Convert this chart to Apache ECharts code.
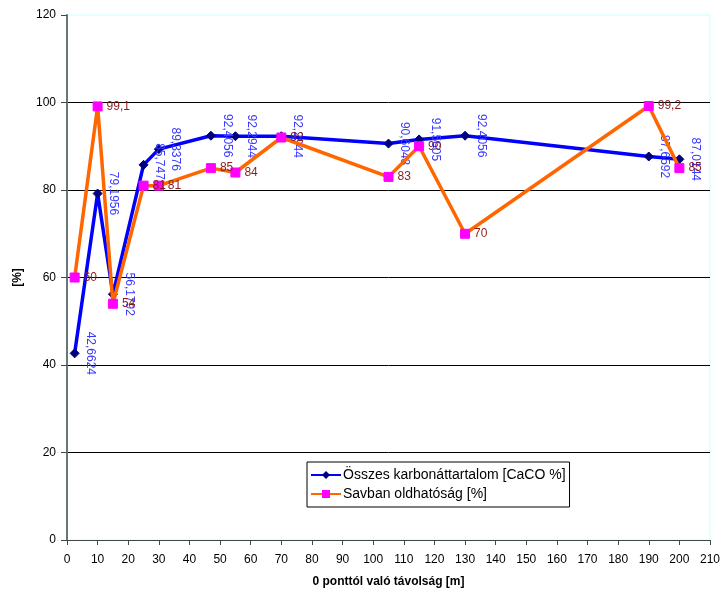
<!DOCTYPE html>
<html>
<head>
<meta charset="utf-8">
<script src="https://cdn.jsdelivr.net/npm/echarts@6/dist/echarts.min.js"></script>
<style>
  html, body { margin: 0; padding: 0; background: #ffffff; }
  #chart { width: 724px; height: 592px; }
</style>
</head>
<body>
<div id="chart"></div>
<script>
// Sampling distances from the 0 point [m]
const distances = [2.5, 10, 15, 25, 30, 47, 55, 70, 105, 115, 130, 190, 200];
// Total carbonate content [CaCO %]
const carbonate = [42.6624, 79.1956, 56.1792, 85.7472, 89.3376, 92.4056, 92.2944, 92.2944, 90.6048, 91.5605, 92.4056, 87.6592, 87.0144];
// Acid solubility [%]
const solubility = [60, 99.1, 54, 81, 81, 85, 84, 92, 83, 90, 70, 99.2, 85];

const seriesNames = ['Összes karbonáttartalom [CaCO %]', 'Savban oldhatóság [%]'];
const xAxisTitle = '0 ponttól való távolság [m]';
const yAxisTitle = '[%]';

const font = 'Liberation Sans, Arial, sans-serif';
const pairs = (ys) => distances.map((x, i) => [x, ys[i]]);
const decimalComma = (p) => String(p.value[1]).replace('.', ',');

const chart = echarts.init(document.getElementById('chart'), null, { renderer: 'canvas' });
chart.setOption({
  animation: false,
  backgroundColor: '#ffffff',
  textStyle: { fontFamily: font },
  grid: {
    left: 67, right: 14, top: 15, bottom: 52,
    outerBoundsMode: 'none',
    containLabel: false,
    show: true, borderColor: '#ccffff', borderWidth: 1, backgroundColor: 'transparent'
  },
  legend: {
    orient: 'vertical',
    left: 307, top: 462,
    padding: [6, 4, 6, 3],
    itemGap: 5,
    itemWidth: 30,
    itemHeight: 10,
    borderColor: '#000000',
    borderWidth: 1,
    backgroundColor: '#ffffff',
    textStyle: { fontFamily: font, fontSize: 14, color: '#000000', padding: [0, 0, 0, -3] },
    data: seriesNames
  },
  xAxis: {
    type: 'value',
    min: 0, max: 210, interval: 10,
    name: xAxisTitle,
    nameLocation: 'middle',
    nameGap: 36,
    nameTextStyle: { fontFamily: font, fontSize: 12, fontWeight: 'bold', color: '#000000' },
    axisLine: { show: true, lineStyle: { color: '#404848', width: 1 } },
    axisTick: { show: true, length: 5, inside: false, lineStyle: { color: '#404848' } },
    axisLabel: { fontFamily: font, fontSize: 12, color: '#000000', margin: 14 },
    splitLine: { show: false }
  },
  yAxis: {
    type: 'value',
    min: 0, max: 120, interval: 20,
    name: yAxisTitle,
    nameLocation: 'middle',
    nameGap: 43,
    nameTextStyle: { fontFamily: font, fontSize: 12, fontWeight: 'bold', color: '#000000' },
    axisLine: { show: true, lineStyle: { color: '#687878', width: 2 } },
    axisTick: { show: true, length: 6, inside: false, lineStyle: { color: '#404848' } },
    axisLabel: { fontFamily: font, fontSize: 12, color: '#000000', margin: 11 },
    splitLine: {
      show: true,
      lineStyle: { color: '#000000', width: 1 },
      showMaxLine: false
    }
  },
  series: [
    {
      name: seriesNames[0],
      type: 'line',
      data: pairs(carbonate),
      symbol: 'diamond',
      symbolSize: 9,
      showAllSymbol: true,
      lineStyle: { color: '#0000ff', width: 3.5 },
      itemStyle: { color: '#000080', borderColor: '#000080' },
      z: 2,
      label: {
        show: true,
        position: 'right',
        distance: 11,
        rotate: -90,
        align: 'center',
        verticalAlign: 'middle',
        fontFamily: font,
        fontSize: 12,
        color: '#3838ff',
        formatter: decimalComma
      }
    },
    {
      name: seriesNames[1],
      type: 'line',
      data: pairs(solubility),
      symbol: 'rect',
      symbolSize: 9,
      showAllSymbol: true,
      lineStyle: { color: '#ff6600', width: 3.5 },
      itemStyle: { color: '#ff00ff', borderColor: '#ff00ff' },
      z: 3,
      label: {
        show: true,
        position: 'right',
        distance: 4,
        fontFamily: font,
        fontSize: 12,
        color: '#8c1c1c',
        formatter: decimalComma
      }
    }
  ]
});
</script>
</body>
</html>
